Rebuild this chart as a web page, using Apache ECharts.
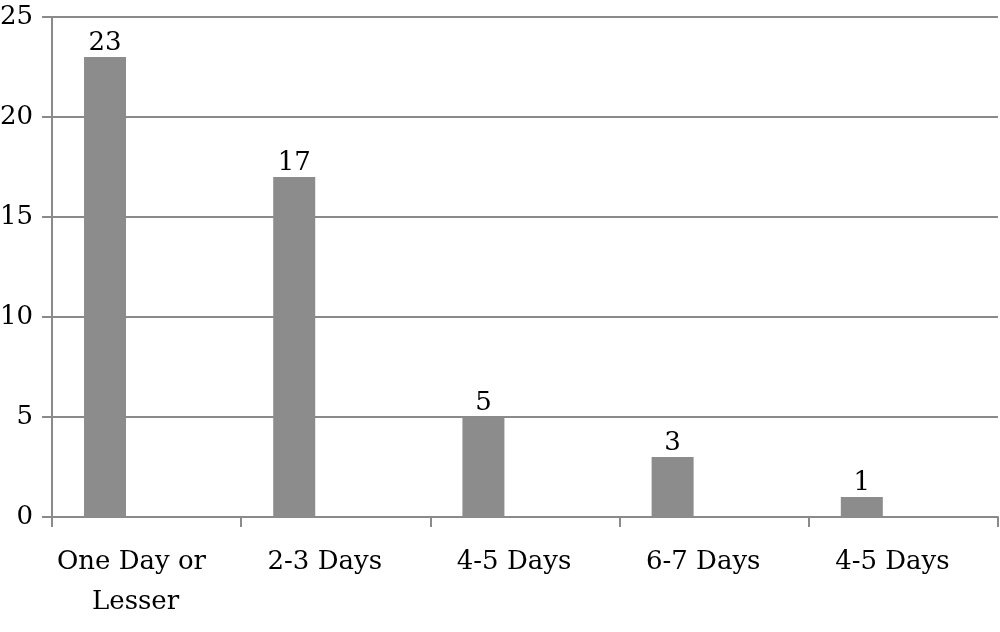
<!DOCTYPE html>
<html>
<head>
<meta charset="utf-8">
<script src="https://cdn.jsdelivr.net/npm/echarts@6/dist/echarts.min.js"></script>
<style>html,body{margin:0;padding:0;background:#fff}#c{width:1000px;height:632px}</style>
</head>
<body>
<div id="c"></div>
<script>
const categories = ["One Day or Lesser", "2-3 Days", "4-5 Days", "6-7 Days", "4-5 Days"];
const values = [23, 17, 5, 3, 1];
const yTicks = [0, 5, 10, 15, 20, 25];

const FONT = "DejaVu Serif";
const chart = echarts.init(document.getElementById('c'), null, {renderer: 'canvas'});
chart.setOption({
  animation: false,
  grid: {left: 52, right: 2, top: 17, bottom: 115, containLabel: false, outerBoundsMode: 'none'},
  xAxis: {
    type: 'category',
    data: categories,
    axisLine: {show: true, lineStyle: {color: '#8a8a8a', width: 2}},
    axisTick: {show: true, length: 10, alignWithLabel: false, lineStyle: {color: '#8a8a8a', width: 2}},
    axisLabel: {
      interval: 0, color: '#000', fontFamily: FONT, fontSize: 26, lineHeight: 40,
      margin: 25, width: 185, overflow: 'break', padding: [0, 22, 0, 0]
    }
  },
  yAxis: {
    type: 'value',
    min: yTicks[0], max: yTicks[yTicks.length - 1], interval: 5,
    axisLine: {show: true, lineStyle: {color: '#8a8a8a', width: 2}},
    axisTick: {show: true, length: 10, lineStyle: {color: '#8a8a8a', width: 2}},
    splitLine: {show: true, lineStyle: {color: '#8a8a8a', width: 2}},
    axisLabel: {color: '#000', fontFamily: FONT, fontSize: 26, margin: 19}
  },
  series: [
    {
      type: 'bar', data: values, barWidth: 42, barGap: '98%',
      itemStyle: {color: '#8c8c8c'},
      label: {show: true, position: 'top', distance: 1, color: '#000', fontFamily: FONT, fontSize: 26}
    },
    {
      type: 'bar', data: values.map(() => null), barWidth: 42,
      itemStyle: {color: '#8c8c8c'}
    }
  ]
});
</script>
</body>
</html>
